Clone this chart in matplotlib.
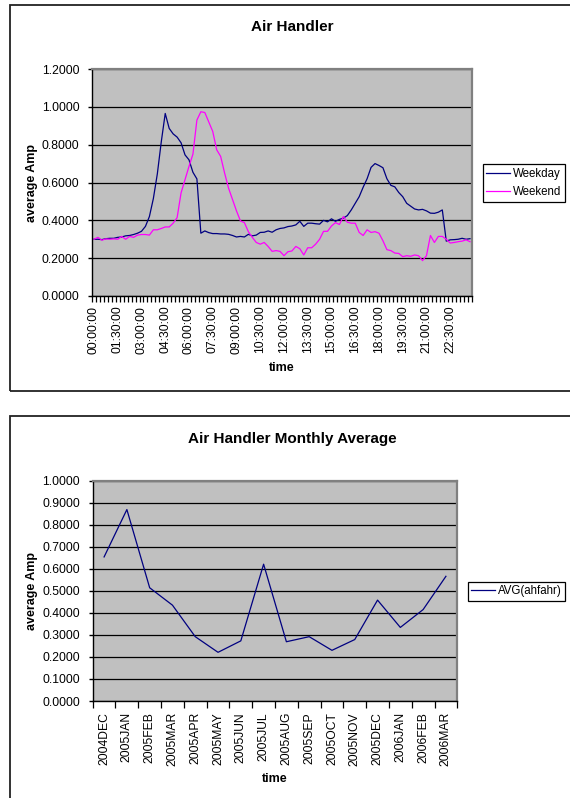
import numpy as np
import matplotlib
matplotlib.use('Agg')
import matplotlib.pyplot as plt
from matplotlib.patches import Rectangle

plt.rcParams['font.family'] = ['Liberation Sans', 'DejaVu Sans']

# quarter-hour readings through the day
times = ['%02d:%02d:00' % (m // 60, m % 60) for m in range(0, 24 * 60, 15)]

weekday = [0.300, 0.300, 0.298, 0.303, 0.305, 0.305, 0.310, 0.312, 0.318, 0.320,
           0.325, 0.332, 0.342, 0.368, 0.420, 0.515, 0.645, 0.815, 0.965, 0.886,
           0.857, 0.840, 0.810, 0.746, 0.720, 0.654, 0.619, 0.332, 0.344, 0.335,
           0.330, 0.330, 0.328, 0.328, 0.326, 0.320, 0.312, 0.315, 0.312, 0.326,
           0.318, 0.322, 0.336, 0.337, 0.344, 0.337, 0.350, 0.357, 0.360, 0.367,
           0.370, 0.376, 0.395, 0.368, 0.385, 0.385, 0.382, 0.380, 0.400, 0.392,
           0.408, 0.395, 0.405, 0.412, 0.425, 0.455, 0.490, 0.525, 0.575, 0.620,
           0.680, 0.700, 0.690, 0.678, 0.620, 0.585, 0.577, 0.547, 0.525, 0.490,
           0.475, 0.460, 0.455, 0.458, 0.450, 0.438, 0.437, 0.443, 0.455, 0.290,
           0.297, 0.298, 0.300, 0.305, 0.300, 0.303]

weekend = [0.300, 0.310, 0.295, 0.302, 0.300, 0.302, 0.300, 0.315, 0.300, 0.315,
           0.310, 0.322, 0.325, 0.325, 0.322, 0.350, 0.350, 0.357, 0.365, 0.365,
           0.385, 0.414, 0.545, 0.615, 0.685, 0.750, 0.930, 0.974, 0.970, 0.920,
           0.870, 0.773, 0.738, 0.650, 0.570, 0.510, 0.450, 0.397, 0.388, 0.340,
           0.310, 0.283, 0.274, 0.283, 0.262, 0.236, 0.240, 0.236, 0.213, 0.234,
           0.238, 0.262, 0.250, 0.217, 0.255, 0.255, 0.274, 0.300, 0.342, 0.342,
           0.370, 0.388, 0.378, 0.420, 0.390, 0.385, 0.385, 0.336, 0.320, 0.350,
           0.336, 0.340, 0.332, 0.292, 0.245, 0.240, 0.227, 0.225, 0.208, 0.213,
           0.210, 0.217, 0.213, 0.187, 0.213, 0.320, 0.283, 0.315, 0.315, 0.300,
           0.280, 0.283, 0.287, 0.290, 0.297, 0.287]

months = ['2004DEC', '2005JAN', '2005FEB', '2005MAR', '2005APR', '2005MAY',
          '2005JUN', '2005JUL', '2005AUG', '2005SEP', '2005OCT', '2005NOV',
          '2005DEC', '2006JAN', '2006FEB', '2006MAR']
monthly_avg = [0.654, 0.869, 0.514, 0.435, 0.292, 0.221, 0.273, 0.621,
               0.269, 0.292, 0.230, 0.279, 0.458, 0.334, 0.415, 0.566]

W, H = 570, 798
fig = plt.figure(figsize=(W / 100, H / 100), dpi=100)
fig.patch.set_facecolor('white')

TICK_FS = 8.7
LEGEND_FS = 8.3
LABEL_FS = 9


def px_axes(left, top, right, bottom):
    return fig.add_axes([left / W, 1 - bottom / H, (right - left) / W, (bottom - top) / H])


def excel_frame(ax, yticks):
    ax.set_facecolor('#c0c0c0')
    ax.set_yticks(yticks)
    ax.set_yticklabels(['%.4f' % v for v in yticks], fontsize=TICK_FS)
    ax.grid(axis='y', color='black', lw=0.9)
    ax.set_axisbelow(True)
    for s in ('top', 'right'):
        ax.spines[s].set_color('#808080')
        ax.spines[s].set_linewidth(1.6)
    for s in ('left', 'bottom'):
        ax.spines[s].set_color('black')
        ax.spines[s].set_linewidth(1.0)
    ax.tick_params(axis='y', length=3, width=1, pad=6)


def excel_legend(ax, left, ymid):
    leg = ax.legend(loc='center left', bbox_to_anchor=(left / W, 1 - ymid / H),
                    bbox_transform=fig.transFigure, fontsize=LEGEND_FS, frameon=True,
                    fancybox=False, edgecolor='black', framealpha=1, borderpad=0.3,
                    borderaxespad=0, handlelength=2.1, handletextpad=0.2,
                    labelspacing=0.55)
    leg.get_frame().set_linewidth(0.9)


# chart borders
fig.add_artist(Rectangle((10 / W, 1 - 391 / H), 1, 386 / H, transform=fig.transFigure,
                         fill=False, ec='#222222', lw=1.3))
fig.add_artist(Rectangle((10 / W, -0.05), 1, 1 - 416 / H + 0.05, transform=fig.transFigure,
                         fill=False, ec='#222222', lw=1.3))

# daily profile
ax1 = px_axes(92, 69, 472, 296)
x = np.arange(len(times)) + 0.5
ax1.plot(x, weekday, color='#000080', lw=0.9, label='Weekday')
ax1.plot(x, weekend, color='#ff00ff', lw=0.9, label='Weekend')
ax1.set_xlim(0, len(times))
ax1.set_ylim(0, 1.2)
excel_frame(ax1, np.arange(0, 1.21, 0.2))
ax1.set_xticks(np.arange(len(times) + 1))
ax1.set_xticklabels([])
ax1.tick_params(axis='x', which='major', length=4, width=0.9)
ax1.set_xticks(x[::6], minor=True)
ax1.set_xticklabels(times[::6], minor=True, rotation=90, fontsize=TICK_FS)
ax1.tick_params(axis='x', which='minor', length=0, pad=7)
excel_legend(ax1, 482.7, 183)

fig.text(292 / W, 1 - 27 / H, 'Air Handler', ha='center', va='center',
         fontsize=11, fontweight='bold')
fig.text(32 / W, 1 - 183 / H, 'average Amp', ha='center', va='center',
         rotation=90, fontsize=LABEL_FS, fontweight='bold')
fig.text(282 / W, 1 - 368 / H, 'time', ha='center', va='center',
         fontsize=LABEL_FS, fontweight='bold')

# monthly averages
ax2 = px_axes(92.7, 480.7, 457.3, 701)
xm = np.arange(len(months)) + 0.5
ax2.plot(xm, monthly_avg, color='#000080', lw=0.9, label='AVG(ahfahr)')
ax2.set_xlim(0, len(months))
ax2.set_ylim(0, 1.0)
excel_frame(ax2, np.arange(0, 1.01, 0.1))
ax2.set_xticks(np.arange(len(months) + 1))
ax2.set_xticklabels([])
ax2.tick_params(axis='x', which='major', length=5, width=0.9)
ax2.set_xticks(xm, minor=True)
ax2.set_xticklabels(months, minor=True, rotation=90, fontsize=TICK_FS)
ax2.tick_params(axis='x', which='minor', length=0, pad=8)
excel_legend(ax2, 467.7, 591.2)

fig.text(292 / W, 1 - 439 / H, 'Air Handler Monthly Average', ha='center', va='center',
         fontsize=11, fontweight='bold')
fig.text(32.5 / W, 1 - 591 / H, 'average Amp', ha='center', va='center',
         rotation=90, fontsize=LABEL_FS, fontweight='bold')
fig.text(275 / W, 1 - 779 / H, 'time', ha='center', va='center',
         fontsize=LABEL_FS, fontweight='bold')

fig.savefig('out.png', dpi=100)
